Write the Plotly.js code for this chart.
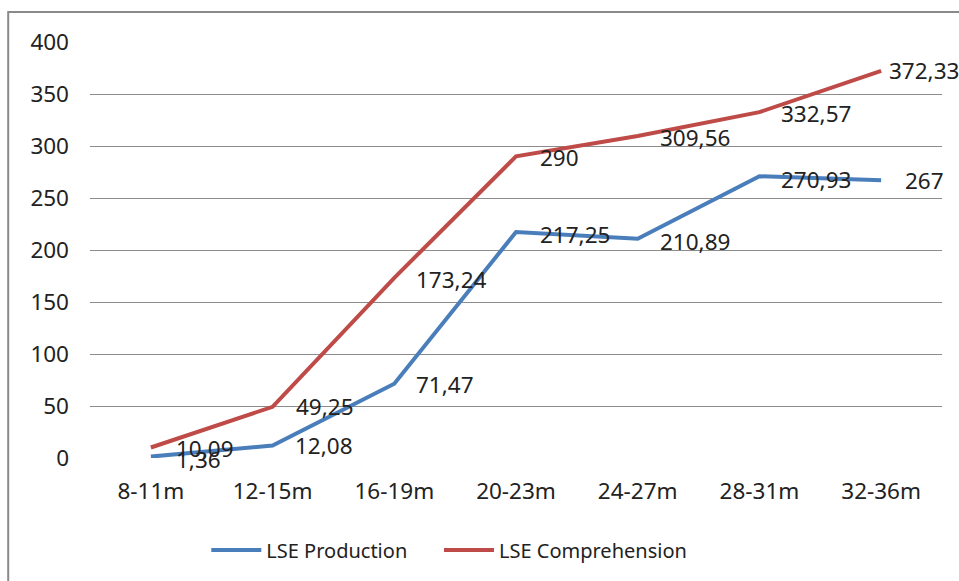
<!DOCTYPE html>
<html>
<head>
<meta charset="utf-8">
<script src="https://cdn.plot.ly/plotly-3.0.1.min.js"></script>
<style>html,body{margin:0;padding:0;background:#fff;}#chart{width:959px;height:581px;}</style>
</head>
<body>
<div id="chart"></div>
<script>
const categories = ["8-11m","12-15m","16-19m","20-23m","24-27m","28-31m","32-36m"];
const production = [1.36, 12.08, 71.47, 217.25, 210.89, 270.93, 267];
const comprehension = [10.09, 49.25, 173.24, 290, 309.56, 332.57, 372.33];
const productionLabels = ["1,36","12,08","71,47","217,25","210,89","270,93","267"];
const comprehensionLabels = ["10,09","49,25","173,24","290","309,56","332,57","372,33"];
const yTicks = [0,50,100,150,200,250,300,350,400];

const blue = "#4a7ebb", red = "#be4b48";
const font = "Noto Sans, Liberation Sans, sans-serif";

const annotations = [];
function addLabels(vals, labels, shifts, yshifts) {
  vals.forEach((v, i) => {
    annotations.push({
      x: categories[i], y: v, text: labels[i], showarrow: false,
      xanchor: "left", yanchor: "middle", xshift: shifts[i], yshift: yshifts[i],
      font: {family: font, size: 22.5, color: "#222"}
    });
  });
}
addLabels(production, productionLabels, [23,20,20,22,20,20,22], [-3,0,-1,-2,-3,-3,0]);
addLabels(comprehension, comprehensionLabels, [23,21,20,22,20,20,6], [-1,0,-2,-1,-1,-1,0]);

const traces = [
  {x: categories, y: production, name: "LSE Production", mode: "lines", type: "scatter",
   line: {color: blue, width: 4}, legend: "legend"},
  {x: categories, y: comprehension, name: "LSE Comprehension", mode: "lines", type: "scatter",
   line: {color: red, width: 4}, legend: "legend2"}
];

const legendBase = {orientation: "h", xanchor: "left", y: -0.221, yanchor: "middle",
  font: {family: font, size: 20, color: "#222"}, itemwidth: 50, bgcolor: "rgba(0,0,0,0)"};

const layout = {
  width: 959, height: 581,
  margin: {l: 90, r: 17, t: 42, b: 123},
  paper_bgcolor: "#fff", plot_bgcolor: "#fff",
  showlegend: true,
  legend: Object.assign({}, legendBase, {x: 0.1365}),
  legend2: Object.assign({}, legendBase, {x: 0.4096}),
  xaxis: {type: "category", showgrid: false, showline: false, zeroline: false, ticks: "",
    tickfont: {family: font, size: 22.5, color: "#222"}, ticklabelstandoff: 17,
    range: [-0.5, 6.5]},
  yaxis: {range: [0, 400], tickvals: yTicks, ticktext: yTicks.map(String),
    showgrid: true, gridcolor: "#8c8c8c", gridwidth: 1, zeroline: false, showline: false, ticks: "",
    tickfont: {family: font, size: 22.5, color: "#222"}, ticklabelstandoff: 20},
  annotations: annotations,
  shapes: [{type: "rect", xref: "paper", yref: "paper", x0: -0.096, x1: 1.2, y0: -0.5, y1: 1.072,
    line: {color: "#8a8a8a", width: 2}, fillcolor: "rgba(0,0,0,0)", layer: "below"}]
};

Plotly.newPlot("chart", traces, layout, {displayModeBar: false, staticPlot: true});
</script>
</body>
</html>
